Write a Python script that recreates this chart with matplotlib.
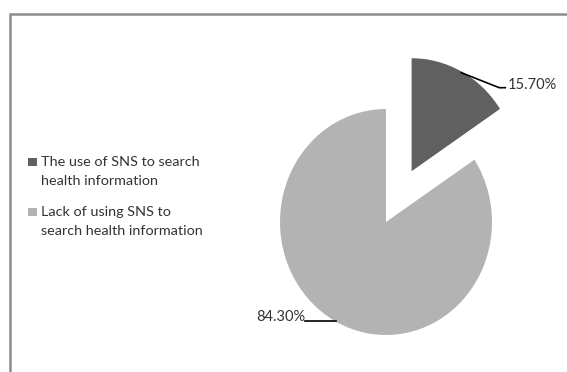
import numpy as np
import matplotlib
matplotlib.use("Agg")
import matplotlib.pyplot as plt
from matplotlib.patches import Rectangle

categories = ["The use of SNS to search\nhealth information",
              "Lack of using SNS to\nsearch health information"]
values = [15.70, 84.30]
value_labels = ["15.70%", "84.30%"]
colors = ["#606060", "#b3b3b3"]

plt.rcParams['font.family'] = ['Lato', 'DejaVu Sans']

W, H = 567, 372
fig = plt.figure(figsize=(W / 100, H / 100), dpi=100)
ax = fig.add_axes([0, 0, 1, 1])

wedges, _ = ax.pie(values, colors=colors, startangle=90, counterclock=False,
                   explode=[0.51, 0], wedgeprops=dict(linewidth=0))

cx, cy, rx, ry = 386, 222, 106, 113
ax.set_aspect('auto')
ax.set_xlim(-cx / rx, (W - cx) / rx)
ax.set_ylim((cy - H) / ry, cy / ry)
ax.axis('off')

def arc_mid(w, r=0.99):
    th = np.deg2rad((w.theta1 + w.theta2) / 2)
    return w.center[0] + r * w.r * np.cos(th), w.center[1] + r * w.r * np.sin(th)

txt_color = "#333333"

# label 1 (small slice): diagonal then short horizontal
x0, y0 = arc_mid(wedges[0])
x1, y1 = x0 + 38 / rx, y0 - 15 / ry
x2 = x1 + 6 / rx
ax.plot([x0, x1, x2], [y0, y1, y1], color="black", lw=1.2)
ax.text(x2 + 2 / rx, y1 - 1 / ry, value_labels[0], ha="left", va="baseline",
        fontsize=10.5, color=txt_color)

# label 2 (large slice): horizontal line to the left
x0, y0 = arc_mid(wedges[1])
x1 = x0 - 31 / rx
ax.plot([x0, x1], [y0, y0], color="black", lw=1.2)
ax.text(x1, y0, value_labels[1], ha="right", va="baseline",
        fontsize=10.5, color=txt_color)

# legend drawn manually (square aligned with first line)
def fx(px):
    return px / W

def fy(py):
    return 1 - py / H

entry_baseline = [166.5, 216.5]
line_step = 18.8
for cat, col, base in zip(categories, colors, entry_baseline):
    fig.patches.append(Rectangle((fx(28), fy(base - 0.5)), 8.5 / W, 8.5 / H,
                                 transform=fig.transFigure, facecolor=col,
                                 edgecolor="none"))
    for k, line in enumerate(cat.split("\n")):
        fig.text(fx(41), fy(base + k * line_step), line, ha="left",
                 va="baseline", fontsize=10.4, color=txt_color)

fig.patches.append(Rectangle((10 / W, -0.1), 1.2, 1 - 14 / H + 0.1,
                             transform=fig.transFigure, fill=False,
                             edgecolor="#8c8c8c", lw=1.8, clip_on=False))

fig.savefig("out.png", dpi=100)
